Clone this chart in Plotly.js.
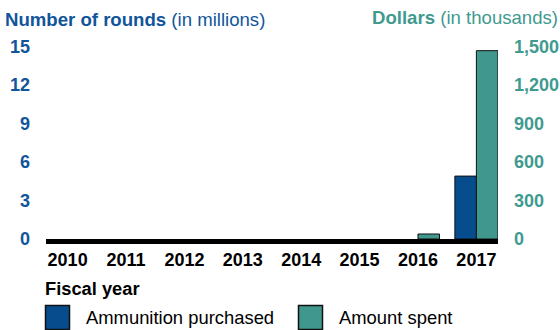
<!DOCTYPE html>
<html>
<head>
<meta charset="utf-8">
<script src="https://cdn.plot.ly/plotly-3.0.1.min.js"></script>
<style>html,body{margin:0;padding:0;background:#fff;}#chart{width:560px;height:330px;}</style>
</head>
<body>
<div id="chart"></div>
<script>
const years = ['2010','2011','2012','2013','2014','2015','2016','2017'];
const roundsMillions = [0, 0, 0, 0, 0, 0, 0, 4.9];
const dollarsThousands = [0, 0, 0, 0, 0, 0, 39, 1467];
const leftTicks = [0, 3, 6, 9, 12, 15];
const rightTicks = [0, 300, 600, 900, 1200, 1500];
const seriesNames = ['Ammunition purchased', 'Amount spent'];

const BLUE = '#074d8e';
const TEAL = '#3f978e';
const BLUE_TXT = '#11559a';
const TEAL_TXT = '#3f9a90';
const FONT = 'Liberation Sans, Arial, sans-serif';

const L = 46, R = 62, T = 40, Bm = 91, Wd = 560, Ht = 330;
const W = Wd - L - R, H = Ht - T - Bm, BASE = Ht - Bm;
const px = v => (v - L) / W;
const py = v => (BASE - v) / H;
const outline = vals => vals.map(v => v > 0 ? 1 : 0);

const traces = [
  {type:'bar', x: years, y: roundsMillions, name: seriesNames[0], yaxis:'y', offsetgroup:'a',
   marker:{color: BLUE, line:{color:'#111', width: outline(roundsMillions)}}, showlegend:false, hoverinfo:'skip'},
  {type:'bar', x: years, y: dollarsThousands, name: seriesNames[1], yaxis:'y2', offsetgroup:'b',
   marker:{color: TEAL, line:{color:'#111', width: outline(dollarsThousands)}}, showlegend:false, hoverinfo:'skip'}
];

const layout = {
  width: Wd, height: Ht,
  margin:{l:L, r:R, t:T, b:Bm, pad:0},
  paper_bgcolor:'#fff', plot_bgcolor:'#fff',
  font:{family: FONT, size:18, color:'#000'},
  barmode:'group', bargap:0.263, bargroupgap:0,
  showlegend:false,
  xaxis:{type:'category', range:[-0.37, 7.37], showgrid:false, zeroline:false,
    showline:true, linecolor:'#000', linewidth:5, ticks:'', ticklabelstandoff:0,
    tickfont:{family:FONT, size:18, color:'#000', weight:700}, fixedrange:true},
  yaxis:{range:[0,15.5], tickvals:leftTicks, showgrid:false, zeroline:false, showline:false,
    ticks:'', ticklabelstandoff:15, tickfont:{family:FONT, size:18, color:BLUE_TXT, weight:700}},
  yaxis2:{range:[0,1550], tickvals:rightTicks, tickformat:',d', overlaying:'y', side:'right',
    showgrid:false, zeroline:false, showline:false, ticks:'', ticklabelstandoff:15,
    tickfont:{family:FONT, size:18, color:TEAL_TXT, weight:700}},
  shapes:[
    {type:'rect', xref:'paper', yref:'paper', x0:px(45.5), x1:px(69.5), y0:py(305.5), y1:py(329.5),
     fillcolor:BLUE, line:{color:'#111', width:1.5}, layer:'above'},
    {type:'rect', xref:'paper', yref:'paper', x0:px(298.5), x1:px(322.5), y0:py(305.5), y1:py(329.5),
     fillcolor:TEAL, line:{color:'#111', width:1.5}, layer:'above'}
  ],
  annotations:[
    {xref:'paper', yref:'paper', x:px(3), y:py(19), xanchor:'left', yanchor:'middle', showarrow:false,
     text:'<b>Number of rounds</b> (in millions)', font:{family:FONT, size:18.6, color:BLUE_TXT}},
    {xref:'paper', yref:'paper', x:px(560), y:py(17), xanchor:'right', yanchor:'middle', showarrow:false,
     text:'<b>Dollars</b> (in thousands)', font:{family:FONT, size:18.6, color:TEAL_TXT}},
    {xref:'paper', yref:'paper', x:px(43), y:py(288), xanchor:'left', yanchor:'middle', showarrow:false,
     text:'<b>Fiscal year</b>', font:{family:FONT, size:18.3, color:'#000'}},
    {xref:'paper', yref:'paper', x:px(84), y:py(317), xanchor:'left', yanchor:'middle', showarrow:false,
     text:seriesNames[0], font:{family:FONT, size:18.4, color:'#000'}},
    {xref:'paper', yref:'paper', x:px(337), y:py(317), xanchor:'left', yanchor:'middle', showarrow:false,
     text:seriesNames[1], font:{family:FONT, size:18.4, color:'#000'}}
  ]
};

Plotly.newPlot('chart', traces, layout, {staticPlot:true, displayModeBar:false});
</script>
</body>
</html>
